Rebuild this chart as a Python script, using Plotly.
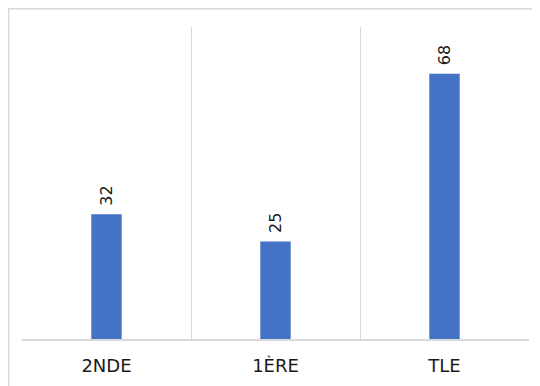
import plotly.graph_objects as go

# Niveaux et effectifs
niveaux = ["2NDE", "1ÈRE", "TLE"]
effectifs = [32, 25, 68]

BAR_COLOR = "#4472C4"
GRID_COLOR = "#d9d9d9"

# The page body has an 8px margin, so the figure is sized to fit the window
OFFSET = 8
W, H = 540 - OFFSET, 386 - OFFSET
L, R, T, B = 14, 11, 19, 47
PW, PH = W - L - R, H - T - B


def px_x(px):
    return (px - L) / PW


def px_y(py):
    return (H - B - py) / PH


fig = go.Figure(
    go.Bar(
        x=niveaux,
        y=effectifs,
        marker=dict(color=BAR_COLOR, line=dict(width=0)),
        width=0.18,
        hoverinfo="x+y",
    )
)

# Value labels, rotated, above each bar
for n, v in zip(niveaux, effectifs):
    fig.add_annotation(
        x=n, y=v, text=str(v),
        textangle=-90,
        xanchor="center", yanchor="bottom",
        yshift=6, showarrow=False,
        font=dict(family="DejaVu Sans", size=16, color="#1a1a1a"),
    )

# Card border around the chart
shapes = [
    dict(type="rect", xref="paper", yref="paper",
         x0=px_x(0.75), x1=px_x(W + 20), y0=px_y(H + 20), y1=px_y(0.75),
         fillcolor="white", line=dict(color=GRID_COLOR, width=1.5), layer="below"),
]

fig.update_layout(
    width=W, height=H,
    margin=dict(l=L, r=R, t=T, b=B),
    paper_bgcolor="white",
    plot_bgcolor="rgba(0,0,0,0)",
    showlegend=False,
    shapes=shapes,
    xaxis=dict(
        tickson="boundaries",
        showgrid=True, gridcolor=GRID_COLOR, gridwidth=1,
        showline=True, linecolor=GRID_COLOR, linewidth=1.5,
        ticks="", ticklen=0,
        ticklabelstandoff=10,
        tickfont=dict(family="DejaVu Sans", size=18, color="#1a1a1a"),
    ),
    yaxis=dict(
        range=[0, 80],
        showgrid=False, zeroline=False,
        showticklabels=False, showline=False,
    ),
)

fig.write_html("out.html")
